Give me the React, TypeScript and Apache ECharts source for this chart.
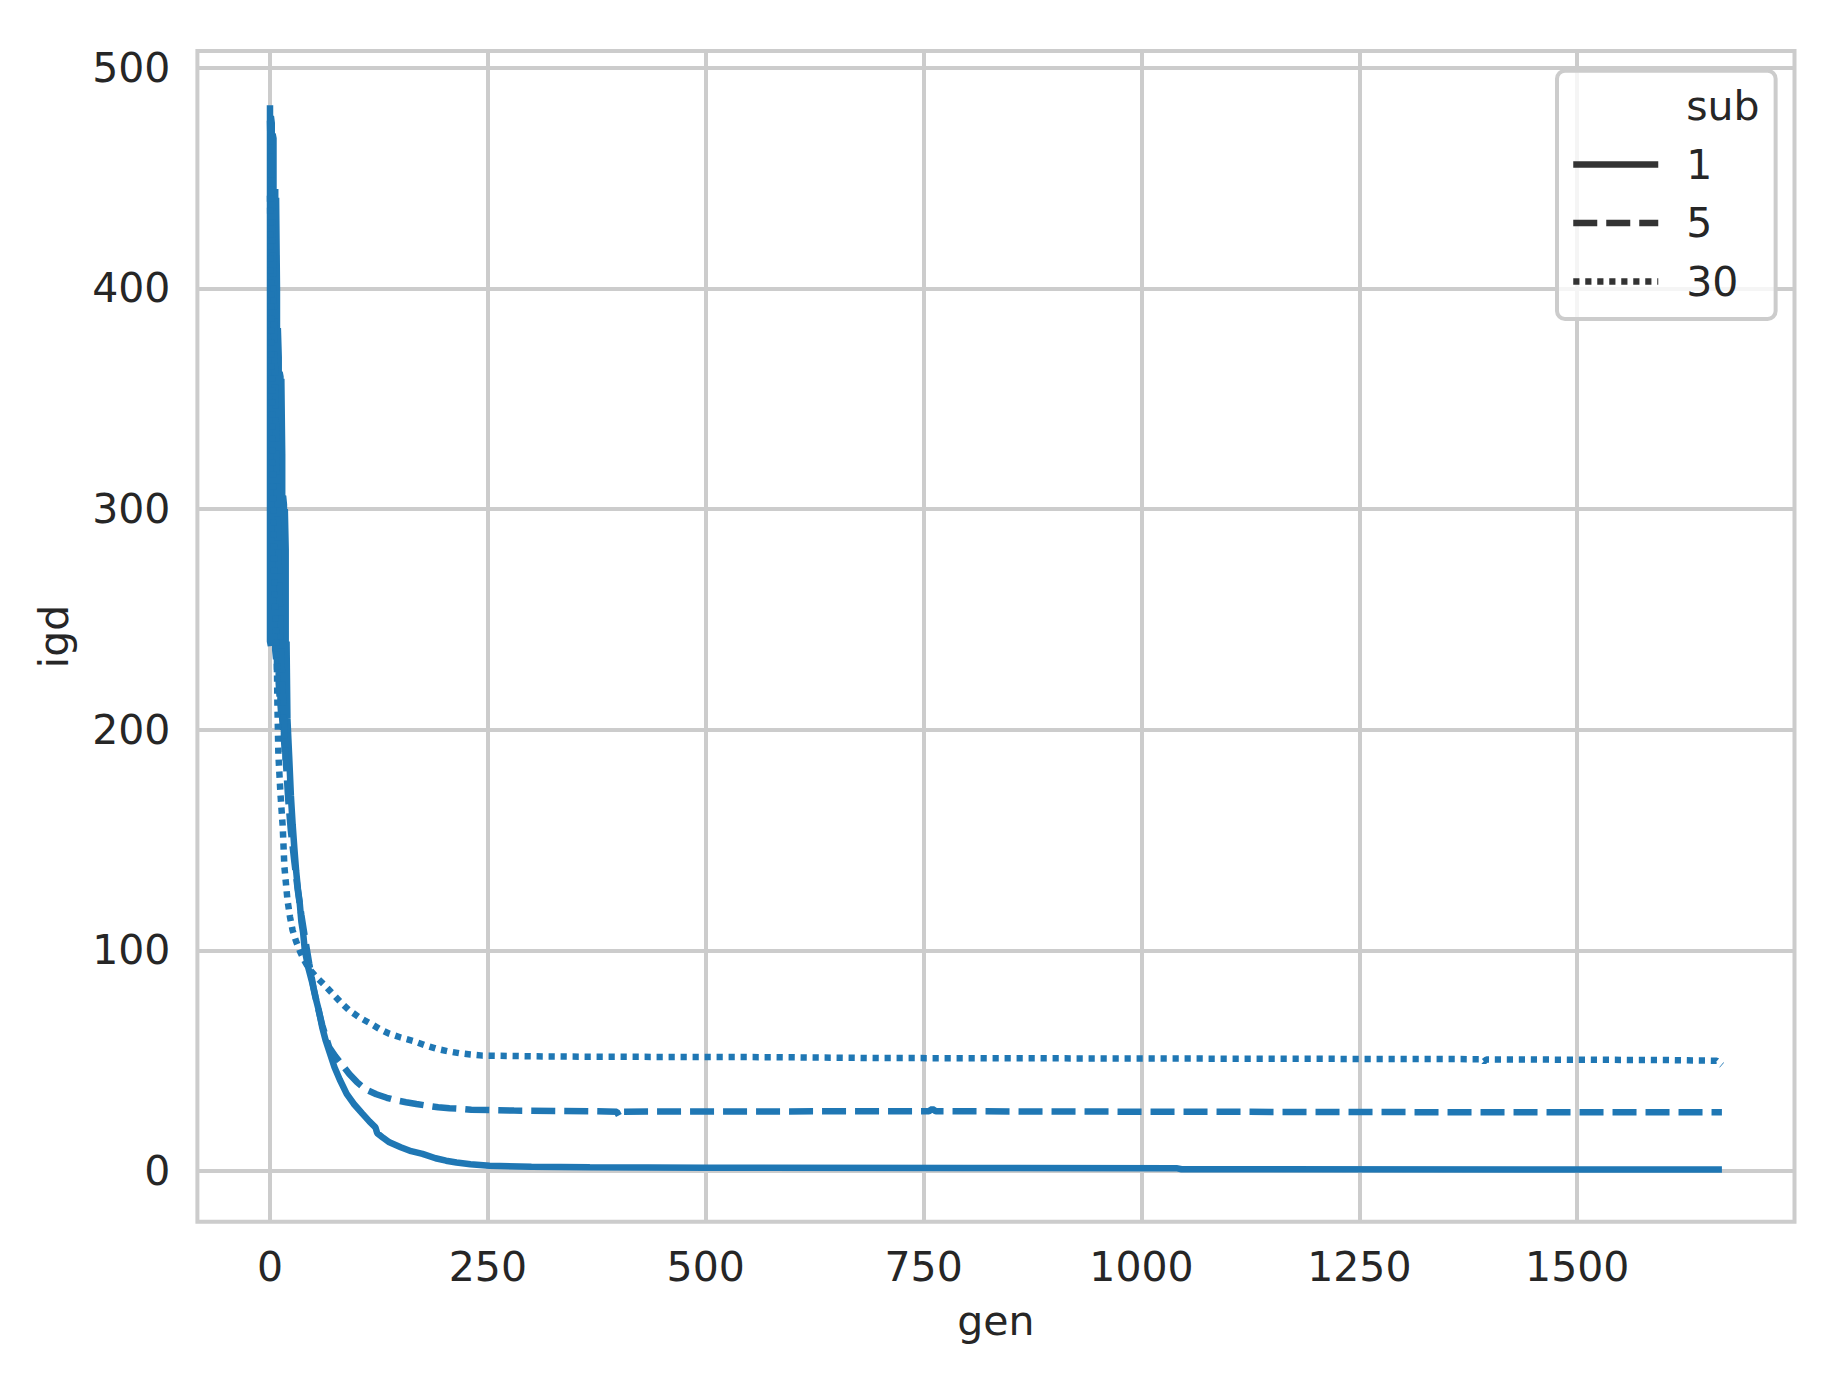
import React, { useEffect, useRef } from "react";
import * as echarts from "echarts";

// ---- data ----
const subNames = ["1", "5", "30"];
const xTicks = [0, 250, 500, 750, 1000, 1250, 1500];
const yTicks = [0, 100, 200, 300, 400, 500];

const sub1Gen = [0, 0, 1, 1, 2, 2, 3, 3, 4, 4, 5, 5, 6, 6, 7, 7, 8, 8, 9, 9, 10, 10, 11, 11, 12, 12, 13, 13, 14, 14, 15, 15, 16, 16, 17, 17, 18, 18, 19, 19, 20, 22, 24, 26, 28, 30, 32, 34, 36, 38, 40, 44, 48.7, 52, 56, 60, 64, 69, 74, 80, 88, 96, 106, 114, 121, 123, 130, 137, 150, 162, 175, 190, 202, 214, 230, 252, 300, 367, 500, 800, 1040, 1046, 1666];
const sub1Igd = [483, 240, 238, 478, 475, 250, 245, 470, 468, 262, 255, 440, 445, 236, 232, 441, 400, 226, 230, 382, 369, 221, 215, 362, 360, 212, 206, 359, 325, 205, 200, 306, 302, 196, 190, 300, 282, 186, 194, 240, 205, 188, 170, 157, 146, 136, 128, 122, 113, 108, 100, 92, 85, 79, 72.8, 65, 59, 53, 47, 41.5, 35, 30.5, 26, 22.5, 19.8, 17.2, 15, 13, 10.8, 9, 7.8, 5.8, 4.7, 3.9, 3.1, 2.4, 2.0, 1.7, 1.5, 1.4, 1.3, 0.8, 0.7];

const sub5Gen = [0, 2, 4, 6, 8, 10, 12, 14, 16, 18, 21, 24, 28, 32, 36, 40, 45, 50, 55, 60, 64, 68, 75, 83.5, 91, 100, 110, 122, 134, 145, 156, 168, 179, 193, 206, 219, 231, 280, 367, 398, 401, 404, 500, 756, 760, 764, 1000, 1300, 1666];
const sub5Igd = [476, 440, 400, 352, 310, 275, 245, 222, 203, 187, 168, 154, 140, 127, 116, 106, 94, 83, 74, 66, 61, 56, 52, 47.8, 44, 40.2, 37, 34.8, 33.2, 32, 31.2, 30.4, 29.7, 28.9, 28.5, 28.2, 27.8, 27.4, 27.1, 26.9, 24.6, 26.9, 27.0, 27.1, 28.2, 27.1, 26.9, 26.7, 26.6];

const sub30Gen = [0, 1, 2, 3, 4, 5, 6, 7, 8, 8.5, 9.6, 12, 14.6, 16.5, 20, 23, 26, 30, 35, 40, 45, 53, 62, 72, 81, 91, 103, 116, 126, 137, 150, 164, 178, 191, 204, 217, 230, 244, 300, 367, 580, 700, 1000, 1390, 1393, 1396, 1600, 1660, 1666];
const sub30Igd = [442, 400, 362, 325, 292, 268, 252, 242, 228, 212, 189, 171, 156, 138, 123, 115, 109, 104, 99, 95, 91.5, 88, 84.5, 80.3, 76.5, 72.8, 69.5, 66.7, 64.3, 62.2, 60.5, 59, 57, 55.4, 54.3, 53.4, 52.8, 52.3, 52, 51.8, 51.6, 51.2, 51, 50.7, 49.6, 50.6, 50.3, 50, 48];

const seriesGens = [sub1Gen, sub5Gen, sub30Gen];
const seriesIgds = [sub1Igd, sub5Igd, sub30Igd];

export default function App() {
  const ref = useRef<HTMLDivElement>(null);

  useEffect(() => {
    document.body.style.margin = "0";
    const chart = echarts.init(ref.current as HTMLDivElement, null, { renderer: "svg" });
    const font = "DejaVu Sans";
    const textColor = "#262626";
    const gridColor = "#cccccc";
    const lineColor = "#1f77b4";
    const dashTypes: any[] = ["solid", [24, 9], [6.2, 5.8]];

    const series: any[] = subNames.map((name, i) => ({
      name,
      type: "line",
      symbol: "none",
      showSymbol: false,
      data: seriesGens[i].map((g, j) => [g, seriesIgds[i][j]]),
      lineStyle: { color: lineColor, width: 6.5, type: dashTypes[i] },
      itemStyle: { color: lineColor },
      z: 3 + i,
    }));
    series.unshift({ name: "sub", type: "line", symbol: "none", data: [] });

    chart.setOption({
      animation: false,
      backgroundColor: "#ffffff",
      textStyle: { fontFamily: font },
      grid: {
        left: 197.4,
        top: 51.1,
        width: 1597.1,
        height: 1170.7,
        show: true,
        borderColor: gridColor,
        borderWidth: 4,
        backgroundColor: "transparent",
      },
      xAxis: {
        type: "value",
        min: -83.3,
        max: 1749.3,
        name: "gen",
        nameLocation: "middle",
        nameGap: 78.5,
        nameTextStyle: { fontFamily: font, fontSize: 41, color: textColor },
        axisLine: { show: false },
        axisTick: { show: false, customValues: xTicks },
        axisLabel: {
          customValues: xTicks,
          margin: 25,
          fontFamily: font,
          fontSize: 41,
          color: textColor,
          formatter: (v: number) => String(v),
        },
        splitLine: { show: true, lineStyle: { color: gridColor, width: 4 } },
      },
      yAxis: {
        type: "value",
        min: -23,
        max: 507.5,
        name: "igd",
        nameLocation: "middle",
        nameGap: 123,
        nameRotate: 90,
        nameTextStyle: { fontFamily: font, fontSize: 41, color: textColor },
        axisLine: { show: false },
        axisTick: { show: false, customValues: yTicks },
        axisLabel: {
          customValues: yTicks,
          margin: 27,
          padding: [7, 0, 0, 0],
          fontFamily: font,
          fontSize: 41,
          color: textColor,
          formatter: (v: number) => String(v),
        },
        splitLine: { show: true, lineStyle: { color: gridColor, width: 4 } },
      },
      legend: {
        orient: "vertical",
        left: 1557,
        top: 70.7,
        padding: [11.3, 16, 13.5, 13],
        itemWidth: 85,
        itemHeight: 48,
        itemGap: 10.5,
        backgroundColor: "rgba(255,255,255,0.8)",
        borderColor: gridColor,
        borderWidth: 4,
        borderRadius: 8,
        selectedMode: false,
        textStyle: { fontFamily: font, fontSize: 41, color: textColor, lineHeight: 48, padding: [0, 0, 0, 23] },
        itemStyle: { opacity: 0 },
        lineStyle: { color: "#333333", width: 6.5 },
        data: [
          { name: "sub", lineStyle: { opacity: 0 } },
          { name: "1", lineStyle: { type: "solid" } },
          { name: "5", lineStyle: { type: [24, 9] } },
          { name: "30", lineStyle: { type: [6.2, 5.8] } },
        ],
      },
      series,
    });

    return () => {
      chart.dispose();
    };
  }, []);

  return <div ref={ref} style={{ width: 1837, height: 1389, position: "absolute", left: 0, top: 0 }} />;
}
